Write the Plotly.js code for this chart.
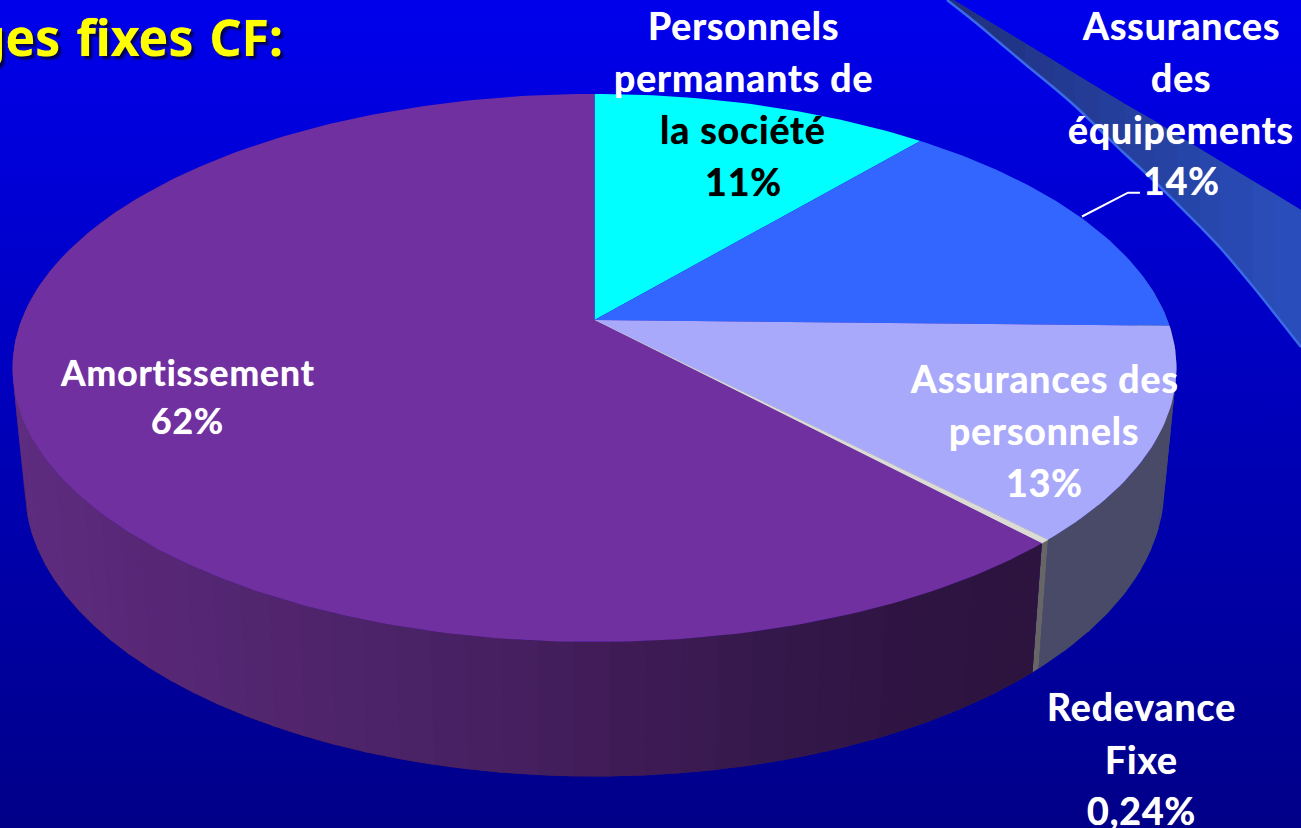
<!DOCTYPE html>
<html><head><meta charset="utf-8">
<script src="https://cdn.plot.ly/plotly-3.0.1.min.js"></script>
<style>html,body{margin:0;padding:0;width:1301px;height:828px;overflow:hidden;background:linear-gradient(#0000ec,#000088);}#c{width:1301px;height:828px}
.annotation-text{font-variant-ligatures:none;letter-spacing:0.9px;}
.annotation:last-child .annotation-text{letter-spacing:0;word-spacing:3px;}</style>
</head><body><div id="c"></div>
<script>
// data
const sliceNames = ["Personnels permanants de la société","Assurances des équipements","Assurances des personnels","Redevance Fixe","Amortissement"];
const sliceValues = [11.15,14.2,12.5,0.24,61.91];
const sliceColors = ["#00ffff","#3366ff","#a9a9fb","#dcdcd4","#7030a0"];
const wallColors = [null,null,"#484a68","#666666","#421c58"];
// label lines
const labelText = ["Personnels","permanants de","la société","11%","Assurances","des","équipements","14%","Assurances des","personnels","13%","Redevance","Fixe","0,24%","Amortissement","62%"];
const labelX = [743,743,743,743,1181,1181,1181,1181,1044,1044,1044,1141,1141,1141,187,187];
const labelY = [25,77,129,181,25,77,129,180,378,430,482,706,759,810,372,420];
const labelColor = ["#fff","#fff","#000","#000","#fff","#fff","#fff","#fff","#fff","#fff","#fff","#fff","#fff","#fff","#fff","#fff"];
const labelSize = [37.5,37.5,37.5,37.5,37.5,37.5,37.5,37.5,37.5,37.5,37.5,37.5,37.5,37.5,35.5,35.5];
// perspective of the pie
const k = 0.1752;
const topFace = {x0:594.5,y0:320,A:573,B:265.6};
const botFace = {x0:594.5,y0:437,A:561,B:280};
const total = sliceValues.reduce((a,b)=>a+b,0);
function pt(f,deg){const t=deg*Math.PI/180,X=Math.sin(t),Y=Math.cos(t),d=1+k*Y;return [f.x0+f.A*X/d,f.y0-f.B*Y/d];}
// wall shade by screen x
const shadeX=[20,130,300,450,600,750,900,1040];
const shadeR=[94,88,80,72,65,54,46,44];
const shadeG=[44,40,36,33,28,24,20,20];
const shadeB=[128,120,108,100,88,76,66,62];
function lerp(xs,ys,x){if(x<=xs[0])return ys[0];for(let i=1;i<xs.length;i++)if(x<=xs[i])return ys[i-1]+(ys[i]-ys[i-1])*(x-xs[i-1])/(xs[i]-xs[i-1]);return ys[ys.length-1];}
const traces=[];
function poly(xs,ys,color,lw){traces.push({type:'scatter',mode:'lines',x:xs,y:ys,fill:'toself',fillcolor:color,line:{color:color,width:lw||0},hoverinfo:'skip',showlegend:false});}
// decoration swoosh
const swooshX=[947,975,1000,1025,1053,1075,1100,1125,1153,1177,1200,1220,1253,1275,1301];
const swooshTop=[-4,13,28,43,60,74,89,104,120,135,149,161,181,194,210];
const swooshBot=[0,22,43,64,87,106,130,154,180,203.5,226.5,247.5,286.5,314,347];
poly(swooshX.concat(swooshX.slice().reverse()),swooshTop.concat(swooshBot.slice().reverse()),'#243c98',0);
for(let i=0;i<swooshX.length-1;i++){
  const f=(swooshX[i]-947)/354, c=`rgb(${Math.round(32+10*f)},${Math.round(48+32*f)},${Math.round(126+66*f)})`;
  poly([swooshX[i],swooshX[i+1],swooshX[i+1],swooshX[i]],[swooshTop[i],swooshTop[i+1],swooshBot[i+1],swooshBot[i]],c,0);
}
traces.push({type:'scatter',mode:'lines',x:swooshX,y:swooshBot,line:{color:'#3a6ae8',width:2.5,shape:'spline',smoothing:1},hoverinfo:'skip',showlegend:false});
// walls
let acc=0;const bounds=[0];sliceValues.forEach(v=>{acc+=v;bounds.push(acc/total*360);});
function wallPoly(a,b,color,lw){const n=Math.max(2,Math.ceil(b-a)),xs=[],ys=[];
  for(let j=0;j<=n;j++){const p=pt(topFace,a+(b-a)*j/n);xs.push(p[0]);ys.push(p[1]);}
  for(let j=n;j>=0;j--){const p=pt(botFace,a+(b-a)*j/n);xs.push(p[0]);ys.push(p[1]);}
  poly(xs,ys,color,lw);}
for(let t=80;t<bounds[3]-1e-6;t+=4){wallPoly(t,Math.min(bounds[3],t+4.4),wallColors[2],0);}
wallPoly(bounds[3],bounds[4],wallColors[3]);
wallPoly(bounds[4],255,wallColors[4]);
const stripDeg=3;
for(let t=bounds[4];t<300-1e-6;t+=stripDeg){
  const e=Math.min(300,t+stripDeg),m=pt(botFace,(t+e)/2)[0];
  const c=`rgb(${Math.round(lerp(shadeX,shadeR,m))},${Math.round(lerp(shadeX,shadeG,m))},${Math.round(lerp(shadeX,shadeB,m))})`;
  const a=t===bounds[4]?t:t-0.4; wallPoly(a,e,c,0);
}
// top face
sliceValues.forEach((v,i)=>{const xs=[topFace.x0],ys=[topFace.y0];
  const a=bounds[i],b=bounds[i+1],n=Math.max(2,Math.ceil((b-a)/1));
  for(let j=0;j<=n;j++){const p=pt(topFace,a+(b-a)*j/n);xs.push(p[0]);ys.push(p[1]);}
  xs.push(topFace.x0);ys.push(topFace.y0);
  poly(xs,ys,sliceColors[i],i===3?0.5:0);
});
// leader line
traces.push({type:'scatter',mode:'lines',x:[1082,1128,1140],y:[216.5,192.7,192.7],line:{color:'#fff',width:2},hoverinfo:'skip',showlegend:false});
const annotations=labelText.map((t,i)=>({text:'<b>'+t+'</b>',x:labelX[i],y:labelY[i],xref:'x',yref:'y',showarrow:false,xanchor:'center',yanchor:'middle',font:{family:'Lato, Carlito, sans-serif',size:labelSize[i],color:labelColor[i],shadow:'0 0 0.7px '+labelColor[i]}}));
annotations.push({text:'<b>ges fixes CF:</b>',x:288,y:37,xref:'x',yref:'y',showarrow:false,xanchor:'right',yanchor:'middle',font:{family:'"Noto Sans", sans-serif',size:50,color:'#ffff00',shadow:'3px 3px 2px #00005a, 0 0 0.8px #ffff00'}});
Plotly.newPlot('c',traces,{width:1301,height:828,margin:{l:0,r:0,t:0,b:0},paper_bgcolor:'rgba(0,0,0,0)',plot_bgcolor:'rgba(0,0,0,0)',showlegend:false,
 xaxis:{range:[0,1301],visible:false,fixedrange:true},yaxis:{range:[828,0],visible:false,fixedrange:true},annotations:annotations},{displayModeBar:false,staticPlot:true});
</script></body></html>
